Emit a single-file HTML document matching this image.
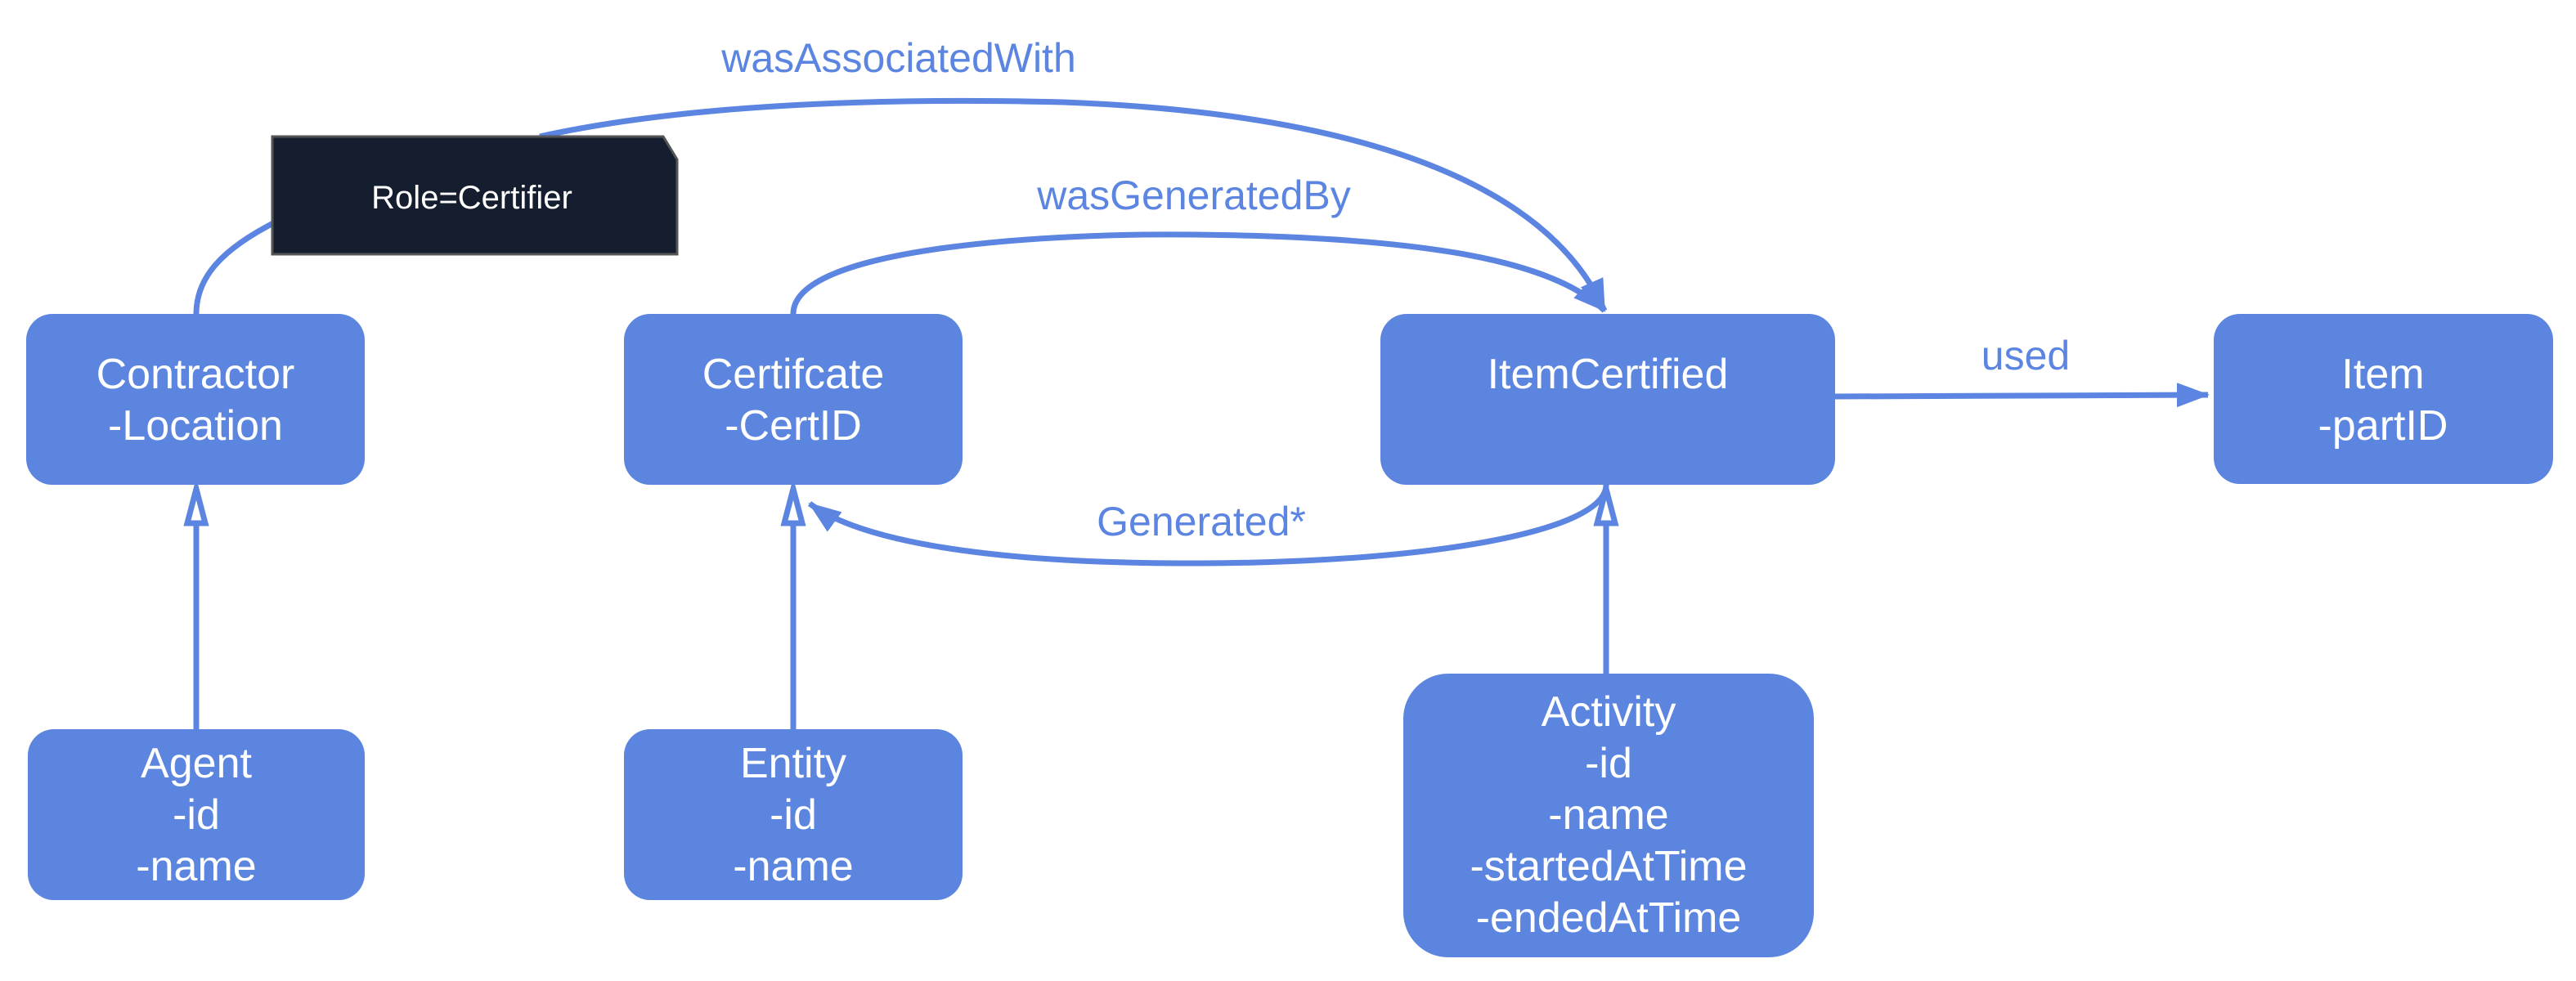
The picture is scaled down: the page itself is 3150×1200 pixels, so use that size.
<!DOCTYPE html>
<html><head><meta charset="utf-8"><style>
html,body{margin:0;padding:0;background:#fff;}
svg{display:block}
text{font-family:"Liberation Sans",sans-serif;}
</style></head><body>
<svg width="3150" height="1200" viewBox="0 0 3150 1200" xmlns="http://www.w3.org/2000/svg">
<defs>
<marker id="ar2" viewBox="0 0 40 30" refX="38" refY="15" markerWidth="40" markerHeight="30" markerUnits="userSpaceOnUse" orient="auto">
<path d="M0,0 L40,15 L0,30 Z" fill="#5b85e0"/></marker>
</defs>
<g fill="none" stroke="#5b85e0" stroke-width="7">
<path d="M240,384 C240,340 270,305 340,270" />
<path d="M660,167 C850,125 1100,120 1300,125 C1700,140 1900,240 1962,380" marker-end="url(#ar2)"/>
<path d="M970,384 C970,300 1300,285 1460,287 C1750,290 1900,320 1962,380" marker-end="url(#ar2)"/>
<path d="M2244,485 L2700,483" marker-end="url(#ar2)"/>
<path d="M1964,593 C1964,650 1750,688 1469,689 C1200,690 1050,660 990,616" marker-end="url(#ar2)"/>
<line x1="240" y1="892" x2="240" y2="640"/>
<line x1="970" y1="892" x2="970" y2="640"/>
<line x1="1964" y1="824" x2="1964" y2="640"/>
</g>
<g fill="#fff" stroke="#5b85e0" stroke-width="7" stroke-linejoin="miter">
<path d="M240,598 L251,640 L229,640 Z"/>
<path d="M970,598 L981,640 L959,640 Z"/>
<path d="M1964,598 L1975,640 L1953,640 Z"/>
</g>
<path d="M333,167 L811,167 L828,195 L828,311 L333,311 Z" fill="#141e2e" stroke="#555" stroke-width="3"/>
<text x="577" y="255" font-size="40" fill="#fff" text-anchor="middle">Role=Certifier</text>
<g fill="#5b85df">
<rect x="32" y="384" width="414" height="209" rx="32"/>
<rect x="763" y="384" width="414" height="209" rx="32"/>
<rect x="1688" y="384" width="556" height="209" rx="32"/>
<rect x="2707" y="384" width="415" height="208" rx="32"/>
<rect x="34" y="892" width="412" height="209" rx="32"/>
<rect x="763" y="892" width="414" height="209" rx="32"/>
<rect x="1716" y="824" width="502" height="347" rx="55"/>
</g>
<g fill="#fff" font-size="52" text-anchor="middle">
<text x="239" y="475">Contractor</text><text x="239" y="538">-Location</text>
<text x="970" y="475">Certifcate</text><text x="970" y="538">-CertID</text>
<text x="1966" y="475">ItemCertified</text>
<text x="2914" y="475">Item</text><text x="2914" y="538">-partID</text>
<text x="240" y="951">Agent</text><text x="240" y="1014">-id</text><text x="240" y="1077">-name</text>
<text x="970" y="951">Entity</text><text x="970" y="1014">-id</text><text x="970" y="1077">-name</text>
<text x="1967" y="888">Activity</text><text x="1967" y="951">-id</text><text x="1967" y="1014">-name</text><text x="1967" y="1077">-startedAtTime</text><text x="1967" y="1140">-endedAtTime</text>
</g>
<g fill="#5b85e0" font-size="50" text-anchor="middle">
<text x="1099" y="88">wasAssociatedWith</text>
<text x="1460" y="256">wasGeneratedBy</text>
<text x="2477" y="452">used</text>
<text x="1469" y="655">Generated*</text>
</g>
</svg>
</body></html>
